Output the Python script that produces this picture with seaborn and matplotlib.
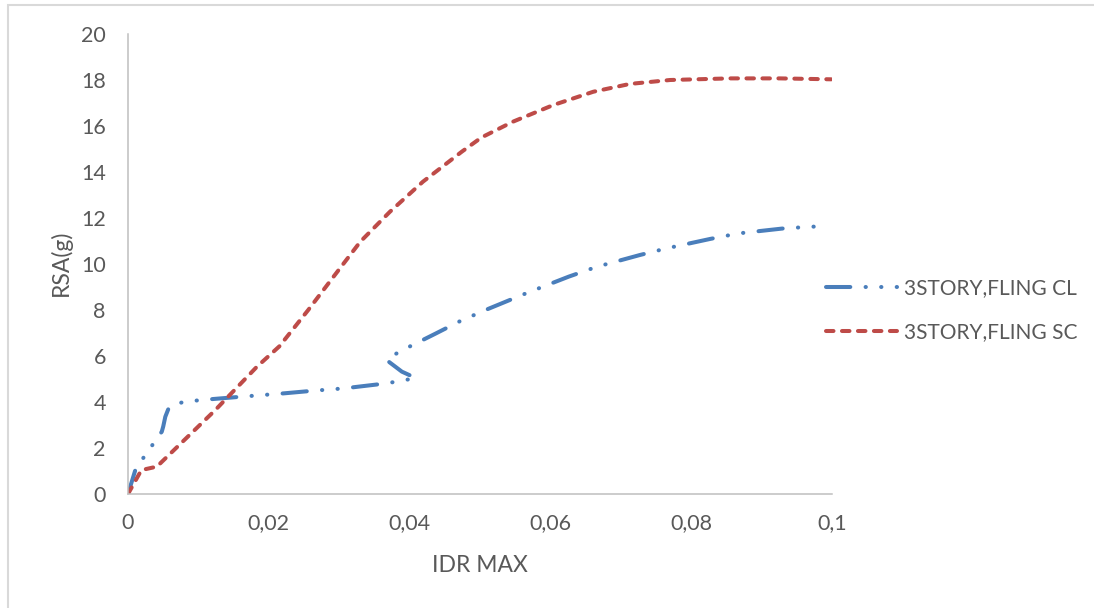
import numpy as np
import pandas as pd
import seaborn as sns
import matplotlib.pyplot as plt
from matplotlib.patches import Rectangle

# --- data -------------------------------------------------------------
cl_label = "3STORY,FLING CL"
cl_idr = [0, 0.0011, 0.0048, 0.0050, 0.0053, 0.0058, 0.0066, 0.0078, 0.0099,
          0.0121, 0.0161, 0.0223, 0.0263, 0.0306, 0.0367, 0.0409, 0.0389,
          0.0367, 0.0379, 0.0398, 0.0436, 0.0472, 0.0511, 0.0569, 0.0626,
          0.0666, 0.0727, 0.0765, 0.0827, 0.0867, 0.0929, 0.0969, 0.0991]
cl_rsa = [0, 1.10, 2.71, 2.93, 3.36, 3.75, 3.90, 3.99, 4.07,
          4.13, 4.23, 4.38, 4.49, 4.59, 4.81, 5.04, 5.32,
          5.83, 6.07, 6.38, 6.96, 7.52, 8.04, 8.77, 9.45,
          9.88, 10.39, 10.68, 11.09, 11.33, 11.54, 11.62, 11.64]

sc_label = "3STORY,FLING SC"
sc_idr = [0, 0.0019, 0.0041, 0.0124, 0.0183, 0.0215, 0.0256, 0.0292,
          0.0330, 0.0372, 0.0419, 0.0474, 0.0502, 0.0547, 0.0604, 0.0661,
          0.0713, 0.0770, 0.0855, 0.0926, 0.0999]
sc_rsa = [0, 1.04, 1.19, 3.65, 5.53, 6.42, 8.00, 9.45,
          10.97, 12.27, 13.58, 14.88, 15.50, 16.19, 16.91, 17.49,
          17.83, 18.00, 18.07, 18.07, 18.03]

x_ticks = [0, 0.02, 0.04, 0.06, 0.08, 0.1]
x_tick_labels = ["0", "0,02", "0,04", "0,06", "0,08", "0,1"]
y_ticks = [0, 2, 4, 6, 8, 10, 12, 14, 16, 18, 20]
y_tick_labels = ["0", "2", "4", "6", "8", "10", "12", "14", "16", "18", "20"]

# --- style ------------------------------------------------------------
sns.set_theme(style="white")
plt.rcParams["font.family"] = ["Lato", "DejaVu Sans"]
plt.rcParams["lines.scale_dashes"] = False

text_grey = "#595959"
axis_grey = "#BFBFBF"
blue = "#4A7EBB"
red = "#BE4B48"

fig = plt.figure(figsize=(10.94, 6.08), dpi=100)
ax = fig.add_axes([128 / 1094, 1 - 494 / 608, 704 / 1094, 460 / 608])

cl_df = pd.DataFrame({"IDR": cl_idr, "RSA": cl_rsa})
sc_df = pd.DataFrame({"IDR": sc_idr, "RSA": sc_rsa})

# long dash - dot - dot for CL, short dashes for SC
sns.lineplot(data=cl_df, x="IDR", y="RSA", sort=False, estimator=None, ax=ax,
             color=blue, linewidth=2.9, label=cl_label,
             linestyle=(0, (17.5, 11.0, 0.2, 11.0, 0.2, 11.0)),
             dash_capstyle="round", solid_capstyle="round")
sns.lineplot(data=sc_df, x="IDR", y="RSA", sort=False, estimator=None, ax=ax,
             color=red, linewidth=2.9, label=sc_label,
             linestyle=(0, (5.4, 6.1)),
             dash_capstyle="round")

ax.set_xlim(0, 0.1)
ax.set_ylim(0, 20)
ax.set_xticks(x_ticks)
ax.set_xticklabels(x_tick_labels)
ax.set_yticks(y_ticks)
ax.set_yticklabels(y_tick_labels)
ax.tick_params(axis="both", length=0, labelsize=15.5, labelcolor=text_grey)
ax.tick_params(axis="y", pad=16)
ax.tick_params(axis="x", pad=14)

for side in ("top", "right"):
    ax.spines[side].set_visible(False)
for side in ("left", "bottom"):
    ax.spines[side].set_color(axis_grey)
    ax.spines[side].set_linewidth(1.1)

ax.set_xlabel("")
ax.set_ylabel("")
fig.text(480 / 1094, 1 - 565 / 608, "IDR MAX", ha="center", va="center",
         fontsize=16.5, color=text_grey)
fig.text(61 / 1094, 1 - 263 / 608, "RSA(g)", ha="center", va="center",
         rotation=90, fontsize=16.5, color=text_grey)

leg = ax.legend(loc="center left", bbox_to_anchor=(826 / 1094, 1 - 310 / 608),
                bbox_transform=fig.transFigure, frameon=False, fontsize=15,
                handlelength=3.4, handletextpad=0.35, labelspacing=1.15,
                borderaxespad=0, borderpad=0)
for t in leg.get_texts():
    t.set_color(text_grey)

# outer chart frame
fig.patches.append(Rectangle((8 / 1094, -0.05), 1.0, 1 - 5 / 608 + 0.05,
                             transform=fig.transFigure, fill=False,
                             edgecolor="#D9D9D9", linewidth=1.5))

fig.savefig("out.png", dpi=100)
